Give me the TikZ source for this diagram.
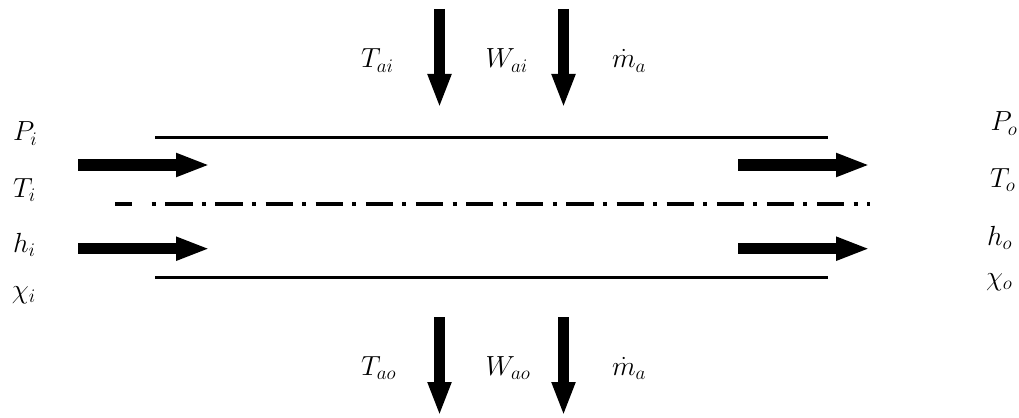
\documentclass[tikz,border=0pt]{standalone}
\usetikzlibrary{arrows.meta}
\tikzset{
  x=0.75pt,y=-0.75pt,
  flow/.style={line width=8.4pt,-{Triangle[length=25.5pt,width=16.2pt]}},
  wall/.style={line width=2.6pt},
  axisdash/.style={line width=2.6pt},
  axisdots/.style={line width=2.6pt,dash pattern=on 3pt off 7.2pt on 20.4pt off 7pt},
  lab/.style={anchor=base west,inner sep=0pt,outer sep=0pt,font=\fontsize{21}{24}\selectfont},
}
\begin{document}
\begin{tikzpicture}
\useasboundingbox (0,0) rectangle (1019,417);
% walls
\coordinate (wtl) at (155,137.5); \coordinate (wtr) at (827.5,137.5);
\coordinate (wbl) at (155,277.7); \coordinate (wbr) at (827.5,277.7);
\draw[wall] (wtl) -- (wtr);
\draw[wall] (wbl) -- (wbr);
% centre line
\coordinate (a0) at (115,204); \coordinate (a1) at (132.3,204);
\coordinate (a2) at (151.7,204); \coordinate (a3) at (870,204);
\draw[axisdash] (a0) -- (a1);
\draw[axisdots] (a2) -- (a3);
% flow arrows
\coordinate (i1s) at (78,165); \coordinate (i1e) at (210,165);
\coordinate (i2s) at (78,248.7); \coordinate (i2e) at (210,248.7);
\coordinate (o1s) at (738,165); \coordinate (o1e) at (870,165);
\coordinate (o2s) at (738,248.7); \coordinate (o2e) at (870,248.7);
\draw[flow] (i1s) -- (i1e);
\draw[flow] (i2s) -- (i2e);
\draw[flow] (o1s) -- (o1e);
\draw[flow] (o2s) -- (o2e);
\coordinate (t1s) at (439.5,9); \coordinate (t1e) at (439.5,108);
\coordinate (t2s) at (563.5,9); \coordinate (t2e) at (563.5,108);
\coordinate (b1s) at (439.5,317); \coordinate (b1e) at (439.5,416);
\coordinate (b2s) at (563.5,317); \coordinate (b2e) at (563.5,416);
\draw[flow] (t1s) -- (t1e);
\draw[flow] (t2s) -- (t2e);
\draw[flow] (b1s) -- (b1e);
\draw[flow] (b2s) -- (b2e);
% labels
\node[lab] (pi) at (13,141) {$P_i$};
\node[lab] (ti) at (13,197) {$T_i$};
\node[lab] (hi) at (13,252) {$h_i$};
\node[lab] (xi) at (12,298) {$\chi_i$};
\node[lab] (po) at (990.5,131) {$P_o$};
\node[lab] (to) at (990,187) {$T_o$};
\node[lab] (ho) at (987,245) {$h_o$};
\node[lab] (xo) at (986,285) {$\chi_o$};
\node[lab] (tai) at (361,68) {$T_{ai}$};
\node[lab] (wai) at (485.5,68) {$W_{ai}$};
\node[lab] (mai) at (612,68) {$\dot m_a$};
\node[lab] (tao) at (361,375) {$T_{ao}$};
\node[lab] (wao) at (485.5,375) {$W_{ao}$};
\node[lab] (mao) at (612,375) {$\dot m_a$};
\end{tikzpicture}
\end{document}
